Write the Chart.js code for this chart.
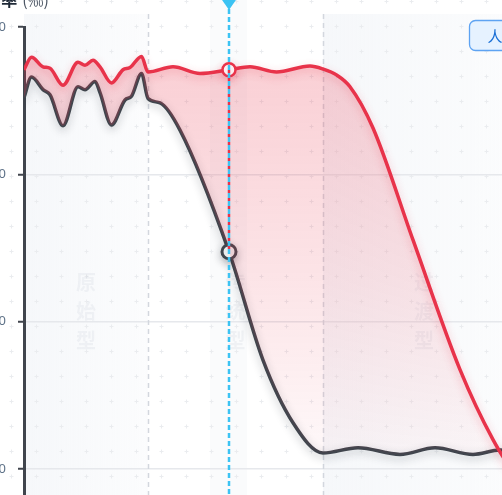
<!DOCTYPE html>
<html><head><meta charset="utf-8">
<script src="https://cdn.jsdelivr.net/npm/chart.js@4.4.1/dist/chart.umd.min.js"></script>
<style>
html,body{margin:0;padding:0;background:#fff;}
#wrap{position:relative;width:502px;height:495px;overflow:hidden;background:#fff;}
#c{position:absolute;left:-40px;top:0;}
</style></head><body>
<div id="wrap"><canvas id="c" width="620" height="640" style="width:620px;height:640px"></canvas></div>
<script>
// ---- data ----
const birthX    = [0, 1.5, 3.8, 5.2, 7.8, 10.8, 12.2, 13.8, 15.2, 17.5, 19.8, 21.2, 23.5, 24.8, 29.8, 35.2, 41, 45.2, 50.5, 57.2, 59.8, 62.5, 65.2, 69.8, 77.8, 87.2, 93.8, 97, 100, 105, 110];
const birthRate = [37.1, 37.95, 37.3, 37.2, 36.05, 37.6, 37.4, 37.75, 37.3, 36.2, 37.1, 37.25, 38.0, 36.95, 37.3, 36.85, 37.1, 37.3, 36.95, 37.35, 37.15, 36.75, 35.95, 33.15, 25.55, 16.75, 12.0, 10.3, 9.8, 9.6, 9.6];
const deathX    = [0, 1.5, 3.8, 5.2, 7.8, 10.8, 12.2, 14.2, 15.2, 17.5, 20.2, 21.5, 23.5, 24.8, 27.2, 31.2, 41, 47.8, 53.8, 59.8, 66.8, 75.2, 82.2, 89.8, 95.2, 100, 105, 110];
const deathRate = [35.2, 36.6, 35.75, 35.4, 33.3, 35.95, 35.75, 36.3, 35.55, 33.35, 35.05, 35.3, 36.85, 35.15, 34.85, 33.0, 24.75, 17.4, 13.15, 11.1, 11.45, 11.0, 11.45, 11.0, 11.3, 11.2, 11.4, 11.2];
const yTicks = [0, 10, 20, 30, 40];
const stageNames = ['原始型', '传统型', '过渡型', '现代型'];
const stageBounds = [0, 24.8, 59.8, 100.2, 110];
const hoverX = 41;
const seriesNames = ['出生率', '死亡率'];
const yTitle = '出生率/死亡率';
const yUnit = '(‰)';
const badgeText = '人口增长模式';

const RED = '#e8334a', GRAY = '#40454d', BLUE = '#3cc3f3';
const toPts = (xs, ys) => xs.map((x, i) => ({x, y: ys[i]}));

const deco = {
  id: 'deco',
  beforeDraw(chart) {
    const {ctx, chartArea: a, scales: {x}} = chart;
    ctx.save();
    const bandTop = a.top - 13;
    for (let i = 0; i < stageNames.length; i += 2) {
      const x0 = x.getPixelForValue(stageBounds[i]), x1 = x.getPixelForValue(stageBounds[i + 1]);
      const g = ctx.createLinearGradient(x0, 0, x1, 0);
      g.addColorStop(0, 'rgba(226,232,240,0.32)');
      g.addColorStop(1, 'rgba(226,232,240,0.12)');
      ctx.fillStyle = g;
      ctx.fillRect(x0, bandTop, x1 - x0, a.bottom - bandTop);
    }
    const hx = x.getPixelForValue(hoverX);
    ctx.fillStyle = 'rgba(203,213,225,0.09)';
    ctx.fillRect(hx - 19, 0, 37, a.bottom);
    ctx.strokeStyle = '#eaecef'; ctx.lineWidth = 1;
    ctx.beginPath();
    for (let px = 1.5; px < chart.width; px += 25) for (let py = 1.5; py < chart.height; py += 25) {
      ctx.moveTo(px - 2, py); ctx.lineTo(px + 2, py);
      ctx.moveTo(px, py - 2); ctx.lineTo(px, py + 2);
    }
    ctx.stroke();
    ctx.restore();
  },
  beforeDatasetsDraw(chart) {
    const {ctx, chartArea: a, scales: {x}} = chart;
    ctx.save();
    ctx.font = 'bold 20px "Noto Sans CJK SC"';
    ctx.fillStyle = 'rgba(100,116,139,0.07)';
    ctx.textAlign = 'center'; ctx.textBaseline = 'middle';
    for (let i = 0; i < stageNames.length; i++) {
      const cx = (x.getPixelForValue(stageBounds[i]) + x.getPixelForValue(stageBounds[i + 1])) / 2;
      [...stageNames[i]].forEach((ch, k) => ctx.fillText(ch, cx, 282 + k * 29));
    }
    ctx.strokeStyle = '#d3d7de'; ctx.lineWidth = 1.5; ctx.setLineDash([5, 4]);
    for (let i = 1; i < stageBounds.length - 1; i++) {
      const px = Math.round(x.getPixelForValue(stageBounds[i])) + 0.5;
      ctx.beginPath(); ctx.moveTo(px, a.top - 13); ctx.lineTo(px, a.bottom); ctx.stroke();
    }
    ctx.restore();
  },
  beforeDatasetDraw(chart, args) {
    const ctx = chart.ctx;
    ctx.save();
    ctx.shadowColor = args.index === 0 ? 'rgba(232,51,74,0.3)' : 'rgba(30,35,45,0.28)';
    ctx.shadowBlur = 8; ctx.shadowOffsetY = 3;
  },
  afterDatasetDraw(chart) { chart.ctx.restore(); },
  afterDatasetsDraw(chart) {
    const {ctx, chartArea: a, scales: {x, y}} = chart;
    const hx = Math.round(x.getPixelForValue(hoverX));
    const yStart = 9;
    const yRed = y.getPixelForValue(birthRate[birthX.indexOf(hoverX)]);
    const yGray = y.getPixelForValue(deathRate[deathX.indexOf(hoverX)]);
    ctx.save();
    ctx.lineWidth = 2.5;
    ctx.strokeStyle = RED; ctx.setLineDash([3, 5]); ctx.lineDashOffset = (yRed - yStart) - 5;
    ctx.beginPath(); ctx.moveTo(hx, yRed); ctx.lineTo(hx, yGray); ctx.stroke();
    ctx.strokeStyle = BLUE; ctx.setLineDash([5, 3]); ctx.lineDashOffset = 0;
    ctx.beginPath(); ctx.moveTo(hx, yStart); ctx.lineTo(hx, a.bottom); ctx.stroke();
    ctx.setLineDash([]);
    ctx.fillStyle = BLUE;
    ctx.beginPath(); ctx.moveTo(hx - 9, -3); ctx.lineTo(hx + 9, -3); ctx.lineTo(hx, 10); ctx.closePath(); ctx.fill();
    // title
    ctx.textBaseline = 'middle'; ctx.textAlign = 'right';
    ctx.font = '16px "Noto Sans CJK SC"'; ctx.fillStyle = '#4b5563';
    const tx = 89;
    ctx.fillText(yUnit, tx, 0);
    const uw = ctx.measureText(yUnit).width;
    ctx.font = 'bold 16px "Noto Sans CJK SC"'; ctx.fillStyle = '#1f2937';
    ctx.fillText(yTitle, tx - uw - 5, 0);
    // badge
    const bx = 509.5, by = 20.5, bh = 30;
    ctx.font = '15px "Noto Sans CJK SC"';
    const bw = ctx.measureText(badgeText).width + 36;
    ctx.beginPath(); ctx.roundRect(bx, by, bw, bh, 6);
    ctx.fillStyle = '#e6f2ff'; ctx.fill();
    ctx.strokeStyle = '#5ea3f2'; ctx.lineWidth = 1.3; ctx.stroke();
    ctx.fillStyle = '#1a6fd6'; ctx.textAlign = 'left';
    ctx.fillText(badgeText, bx + 18, by + bh / 2 + 1);
    ctx.restore();
  }
};

new Chart(document.getElementById('c'), {
  type: 'line',
  data: {
    datasets: [
      {
        label: seriesNames[0], data: toPts(birthX, birthRate),
        borderColor: RED, borderWidth: 3.5, cubicInterpolationMode: 'monotone',
        fill: 1,
        backgroundColor: (c) => {
          const a = c.chart.chartArea;
          if (!a) return 'rgba(232,51,74,0.15)';
          const g = c.chart.ctx.createLinearGradient(0, a.top, 0, a.top + 430);
          g.addColorStop(0, 'rgba(232,51,74,0.25)');
          g.addColorStop(0.6, 'rgba(232,51,74,0.13)');
          g.addColorStop(1, 'rgba(232,51,74,0.03)');
          return g;
        },
        pointRadius: (c) => (c.raw && c.raw.x === hoverX) ? 6.5 : 0,
        pointBackgroundColor: '#fff', pointBorderColor: RED, pointBorderWidth: 2.5,
        pointHoverRadius: 0
      },
      {
        label: seriesNames[1], data: toPts(deathX, deathRate),
        borderColor: GRAY, borderWidth: 3.5, cubicInterpolationMode: 'monotone', fill: false,
        pointRadius: (c) => (c.raw && c.raw.x === hoverX) ? 7 : 0,
        pointBackgroundColor: '#fff', pointBorderColor: GRAY, pointBorderWidth: 3,
        pointHoverRadius: 0
      }
    ]
  },
  options: {
    responsive: false, animation: false, devicePixelRatio: 1,
    events: [],
    layout: {padding: {top: 27, right: 6, bottom: 23.5, left: 0}},
    plugins: {legend: {display: false}, tooltip: {enabled: false}},
    scales: {
      x: {type: 'linear', min: 0, max: 110, display: false},
      y: {
        min: yTicks[0], max: yTicks[yTicks.length - 1],
        afterBuildTicks: (s) => { s.ticks = yTicks.map(v => ({value: v})); },
        afterFit: (s) => { s.width = 64; },
        border: {display: true, color: GRAY, width: 3},
        grid: {
          color: (c) => c.tick && c.tick.value === yTicks[yTicks.length - 1] ? 'rgba(0,0,0,0)' : '#e6e8ec',
          lineWidth: 1.5, tickColor: GRAY, tickWidth: 2, tickLength: 6
        },
        ticks: {padding: 12, color: '#5f7389', font: {size: 13, family: 'Noto Sans'}, callback: (v) => String(v)}
      }
    }
  },
  plugins: [deco]
});
</script>
</body></html>
